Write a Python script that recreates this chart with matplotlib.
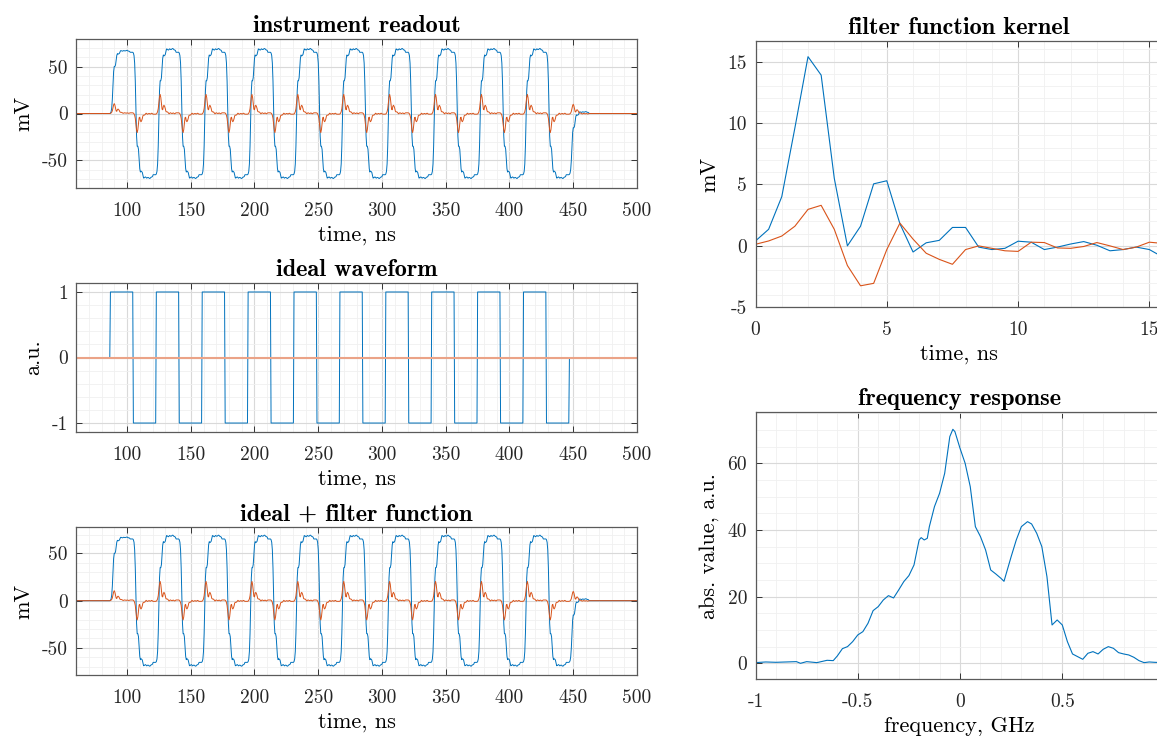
import numpy as np
import matplotlib
matplotlib.use('Agg')
import matplotlib.pyplot as plt
from matplotlib.ticker import MultipleLocator, FormatStrFormatter

# ideal waveform: switching times in ns
rise_times = [87, 123, 159, 195, 231, 267, 303, 339, 375, 411]
fall_times = [105, 141, 177, 213, 249, 285, 321, 357, 393, 429]
pulse_end = 447
t_start, t_stop, dt = 60, 500, 0.5

# filter function kernel, sampled every 0.5 ns (real / imag parts, mV)
kernel_re = [0.4, 1.35, 4.0, 9.6, 15.4, 13.9, 5.5, 0.0, 1.6, 5.05, 5.3, 1.8,
             -0.5, 0.25, 0.45, 1.5, 1.5, -0.1, -0.3, -0.2, 0.38, 0.3, -0.3, -0.1,
             0.15, 0.35, 0.05, -0.4, -0.3, -0.1, -0.3, -0.9]
kernel_im = [0.13, 0.4, 0.8, 1.6, 2.97, 3.3, 1.35, -1.6, -3.25, -3.05, -0.3, 1.85,
             0.55, -0.6, -1.1, -1.5, -0.3, 0.0, -0.2, -0.4, -0.45, 0.3, 0.27, -0.17,
             -0.2, -0.05, 0.27, 0.0, -0.3, -0.1, 0.3, 0.2]

# frequency response of the kernel (abs value)
freq_ghz = [-1.0, -0.95, -0.9, -0.85, -0.8, -0.78, -0.75, -0.7, -0.65, -0.62,
            -0.6, -0.575, -0.55, -0.525, -0.5, -0.475, -0.45, -0.425, -0.4, -0.375,
            -0.35, -0.325, -0.3, -0.275, -0.25, -0.225, -0.2, -0.19, -0.175, -0.16,
            -0.15, -0.125, -0.1, -0.075, -0.05, -0.035, -0.025, 0.0, 0.025, 0.05,
            0.075, 0.1, 0.125, 0.15, 0.175, 0.2, 0.215, 0.25, 0.275, 0.3,
            0.33, 0.35, 0.375, 0.4, 0.425, 0.45, 0.475, 0.5, 0.525, 0.55,
            0.575, 0.6, 0.625, 0.65, 0.675, 0.7, 0.725, 0.75, 0.775, 0.8,
            0.825, 0.85, 0.875, 0.9, 0.925, 0.95, 0.99]
freq_abs = [0.2, 0.4, 0.3, 0.4, 0.5, 0.0, 0.5, 0.2, 0.9, 0.8,
            2.2, 4.4, 5.0, 6.5, 8.5, 9.5, 12.0, 15.8, 17.0, 19.0,
            20.3, 19.6, 22.0, 24.5, 26.3, 29.5, 37.0, 37.7, 37.0, 37.5,
            41.0, 47.0, 51.0, 57.0, 68.0, 70.2, 69.5, 64.5, 60.0, 53.0,
            41.0, 38.0, 34.0, 28.0, 26.8, 25.5, 24.6, 32.0, 37.0, 41.0,
            42.5, 41.8, 39.0, 35.0, 26.0, 11.5, 13.0, 11.5, 6.5, 2.8,
            2.0, 1.2, 3.0, 3.5, 2.8, 4.2, 5.0, 4.5, 3.2, 2.8,
            2.5, 1.8, 0.8, 0.2, 0.4, 0.3, 0.2]

BLUE = '#0072BD'
ORANGE = '#D95319'
PALE_ORANGE = '#EBA387'

plt.rcParams['font.family'] = ['cmr10', 'DejaVu Serif']
plt.rcParams['axes.unicode_minus'] = False
plt.rcParams['font.size'] = 14

LABEL_SIZE = 16


def matlab_axes(ax, xmaj, xmin, ymaj, ymin):
    """grid + box styling similar to a MATLAB figure"""
    ax.xaxis.set_major_locator(MultipleLocator(xmaj))
    ax.xaxis.set_minor_locator(MultipleLocator(xmin))
    ax.yaxis.set_major_locator(MultipleLocator(ymaj))
    ax.yaxis.set_minor_locator(MultipleLocator(ymin))
    ax.xaxis.set_major_formatter(FormatStrFormatter('%g'))
    ax.yaxis.set_major_formatter(FormatStrFormatter('%g'))
    ax.grid(which='major', color='#d9d9d9', linewidth=0.8)
    ax.grid(which='minor', color='#f0f0f0', linewidth=0.6)
    ax.set_axisbelow(True)
    ax.tick_params(which='major', direction='in', top=True, right=True,
                   length=4, width=0.7, color='#333333', labelcolor='#262626',
                   labelsize=14)
    ax.tick_params(axis='x', which='major', pad=10)
    ax.tick_params(axis='y', which='major', pad=6)
    ax.tick_params(which='minor', length=0)
    for s in ax.spines.values():
        s.set_color('#5a5a5a')
        s.set_linewidth(0.9)


def labels(ax, xlabel, ylabel, title):
    ax.set_xlabel(xlabel, fontsize=LABEL_SIZE, labelpad=4)
    ax.set_ylabel(ylabel, fontsize=LABEL_SIZE, labelpad=6)
    ax.set_title(title, fontfamily='cmb10', fontsize=17.5, pad=5)


# build the ideal waveform and its response through the kernel
t = np.arange(t_start, t_stop + dt, dt)
ideal = np.zeros_like(t)
low_end = rise_times[1:] + [pulse_end]
for r, f, e in zip(rise_times, fall_times, low_end):
    ideal[(t >= r) & (t < f)] = 1
    ideal[(t >= f) & (t < e)] = -1
ideal_im = np.zeros_like(t)
active = (t >= rise_times[0] - dt) & (t <= pulse_end)

resp_re = np.convolve(ideal, kernel_re)[:len(t)]
resp_im = np.convolve(ideal, kernel_im)[:len(t)]
kernel_t = np.arange(len(kernel_re)) * dt

W, H = 1157, 736
fig = plt.figure(figsize=(W / 100, H / 100), dpi=100)


def box(l, r, top, bot):
    return [l / W, 1 - bot / H, (r - l) / W, (bot - top) / H]


ax1 = fig.add_axes(box(76, 637, 39, 188))
ax2 = fig.add_axes(box(76, 637, 283, 432))
ax3 = fig.add_axes(box(76, 637, 527, 675))
ax4 = fig.add_axes(box(755.5, 1162.5, 40.7, 307.3))
ax5 = fig.add_axes(box(755.5, 1162.5, 412.3, 679.3))

# instrument readout
ax1.plot(t, resp_re, color=BLUE, lw=0.7)
ax1.plot(t, resp_im, color=ORANGE, lw=0.7)
ax1.set_xlim(60, 500)
ax1.set_ylim(-79.5, 79.5)
matlab_axes(ax1, 50, 10, 50, 10)
labels(ax1, 'time, ns', 'mV', 'instrument readout')

# ideal waveform
ax2.plot(t[active], ideal[active], color=BLUE, lw=0.7)
ax2.plot(t, ideal_im, color=PALE_ORANGE, lw=1.5)
ax2.set_xlim(60, 500)
ax2.set_ylim(-1.137, 1.137)
matlab_axes(ax2, 50, 10, 1, 0.2)
labels(ax2, 'time, ns', 'a.u.', 'ideal waveform')

# ideal + filter function
ax3.plot(t, resp_re, color=BLUE, lw=0.7)
ax3.plot(t, resp_im, color=ORANGE, lw=0.7)
ax3.set_xlim(60, 500)
ax3.set_ylim(-78.7, 78)
matlab_axes(ax3, 50, 10, 50, 10)
labels(ax3, 'time, ns', 'mV', 'ideal + filter function')

# filter function kernel
ax4.plot(kernel_t, kernel_re, color=BLUE, lw=0.8)
ax4.plot(kernel_t, kernel_im, color=ORANGE, lw=0.8)
ax4.set_xlim(0, 15.5)
ax4.set_ylim(-5, 16.7)
matlab_axes(ax4, 5, 1, 5, 1)
labels(ax4, 'time, ns', 'mV', 'filter function kernel')

# frequency response
ax5.plot(freq_ghz, freq_abs, color=BLUE, lw=0.8)
ax5.set_xlim(-1, 0.99)
ax5.set_ylim(-4.8, 75.3)
matlab_axes(ax5, 0.5, 0.1, 20, 5)
labels(ax5, 'frequency, GHz', 'abs. value, a.u.', 'frequency response')

fig.savefig('out.png', dpi=100)
